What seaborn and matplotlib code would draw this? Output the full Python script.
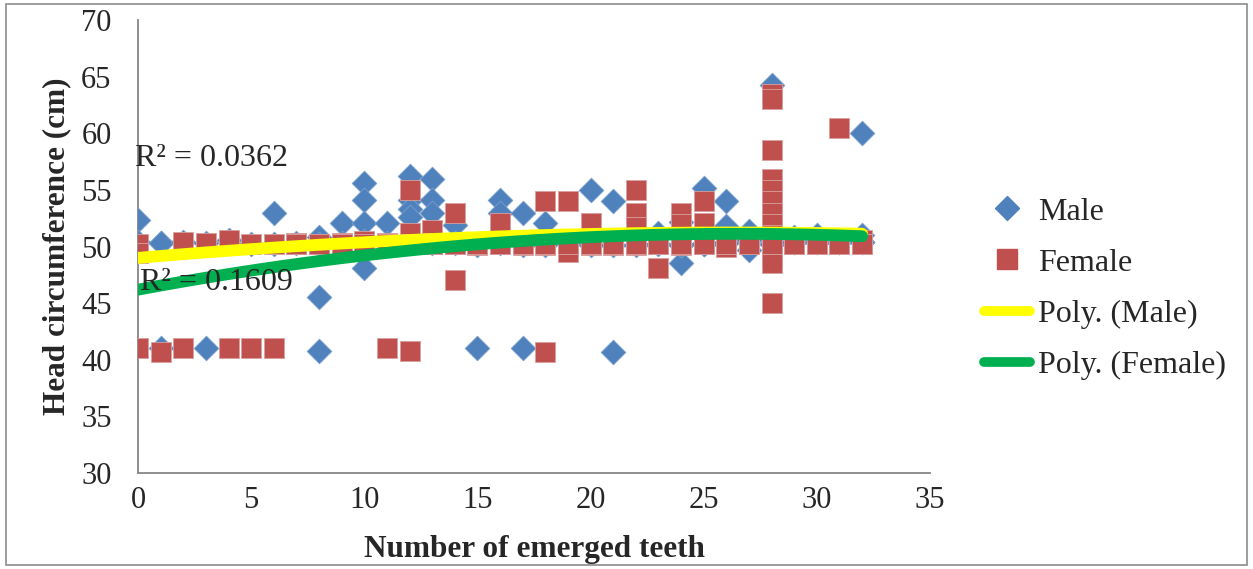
import matplotlib
matplotlib.use("Agg")
import matplotlib.pyplot as plt
import seaborn as sns
import numpy as np
import pandas as pd
from matplotlib.lines import Line2D
from matplotlib.patches import Rectangle

# ---- data (visible markers) ----
male_x = [0, 1, 1, 3, 6, 8, 8, 8, 9, 10, 10, 10, 10, 11, 12, 12, 12, 12, 13, 13, 13,
          14, 15, 16, 16, 17, 17, 18, 20, 21, 21, 23, 24, 24, 25, 26, 26, 27, 27,
          28, 29, 30, 32, 32]
male_y = [52.3, 50.3, 41.0, 41.0, 53.0, 45.5, 40.8, 50.8, 52.1, 55.6, 54.1, 52.1, 48.1,
          52.1, 56.2, 54.1, 53.3, 52.6, 56.0, 54.1, 53.0, 51.9, 41.0, 54.1, 53.0, 53.0,
          41.0, 52.1, 55.0, 54.0, 40.7, 51.2, 48.5, 52.2, 55.2, 54.0, 51.8, 51.4, 49.7,
          64.3, 50.8, 51.0, 60.0, 51.0]

female_x = [0, 0, 0, 1, 2, 2, 3, 4, 4, 5, 5, 6, 6, 7, 8, 9, 10, 11, 11,
            12, 12, 12, 12, 13, 13, 14, 14, 14, 15, 16, 16, 17, 18, 18, 18, 19, 19,
            20, 20, 21, 22, 22, 22, 22, 23, 23, 24, 24, 24, 25, 25, 25, 26, 26, 27,
            28, 28, 28, 28, 28, 28, 28, 28, 28, 28, 28, 28, 28,
            29, 30, 31, 31, 32, 32]
female_y = [50.2, 49.4, 41.0, 40.7, 50.4, 41.0, 50.3, 50.6, 41.0, 50.2, 41.0, 50.2, 41.0,
            50.3, 50.2, 50.3, 50.5, 50.3, 41.0,
            55.0, 51.2, 50.2, 40.8, 51.5, 50.3, 53.0, 50.3, 47.0, 50.1, 52.1, 50.3, 50.1,
            54.0, 50.1, 40.7, 54.0, 49.5, 52.1, 50.1, 50.1, 55.0, 53.0, 51.7, 50.1,
            50.2, 48.1, 53.0, 52.0, 50.1, 54.0, 52.1, 50.2, 50.7, 50.0, 50.6,
            63.5, 63.0, 58.5, 56.0, 55.0, 54.0, 53.0, 52.0, 51.0, 50.0, 49.0, 48.5, 45.0,
            50.4, 50.4, 60.5, 50.6, 50.6, 50.2]

# ---- overlapping (hidden) markers in the dense band near 50 cm (estimated counts) ----
male_overlap_x = [0, 1, 2, 3, 4, 5, 6, 7, 8, 9, 10, 11, 12, 13, 14, 15, 16, 17, 18, 19, 20,
                  21, 22, 23, 24, 25, 26, 27, 28, 29, 30, 31, 32]
male_overlap_n = [1, 1, 1, 1, 1, 1, 1, 1, 1, 1, 1, 1, 1, 1, 1, 1, 1, 1, 1, 1, 1,
                  1, 1, 1, 3, 3, 3, 3, 3, 3, 3, 3, 3]
male_overlap_y = [50.4, 50.3, 50.4, 50.3, 50.6, 50.2, 50.2, 50.3, 50.2, 50.3, 50.5, 50.3,
                  50.4, 50.3, 50.3, 50.1, 50.3, 50.1, 50.1, 50.3, 50.1, 50.1, 50.1, 50.2,
                  50.1, 50.2, 50.3, 50.6, 50.2, 50.4, 50.4, 50.4, 50.4]

female_overlap_x = [7, 8, 9, 10, 11, 12, 13, 14, 15, 16, 17, 18, 19, 20, 21, 22, 23, 24,
                    25, 26, 27, 28, 29, 30, 31, 32]
female_overlap_n = [4, 4, 4, 4, 4, 4, 4, 4, 4, 4, 4, 4, 4, 4, 4, 4, 4, 4,
                    4, 5, 5, 5, 5, 5, 5, 5]
female_overlap_y = 50.2

series_labels = ["Male", "Female", "Poly. (Male)", "Poly. (Female)"]
r2_labels = ["R\u00b2 = 0.0362", "R\u00b2 = 0.1609"]
x_ticks = [0, 5, 10, 15, 20, 25, 30, 35]
y_ticks = [30, 35, 40, 45, 50, 55, 60, 65, 70]

male_df = pd.DataFrame({"teeth": male_x, "hc": male_y})
female_df = pd.DataFrame({"teeth": female_x, "hc": female_y})
male_all = pd.concat([male_df, pd.DataFrame({
    "teeth": np.repeat(male_overlap_x, male_overlap_n),
    "hc": np.repeat(male_overlap_y, male_overlap_n)})], ignore_index=True)
female_all = pd.concat([female_df, pd.DataFrame({
    "teeth": np.repeat(female_overlap_x, female_overlap_n),
    "hc": female_overlap_y})], ignore_index=True)

# ---- styling ----
sns.set_style("white")
plt.rcParams["font.family"] = ["Liberation Serif", "DejaVu Serif"]

BLUE = "#4F81BD"
RED = "#C0504D"
YELLOW = "#FFFF00"
GREEN = "#00B050"
GRAY = "#868686"

fig = plt.figure(figsize=(12.53, 5.69), dpi=100)
ax = fig.add_axes([138 / 1253, 1 - 473 / 569, (930 - 138) / 1253, (473 - 20) / 569])

sns.scatterplot(data=male_all, x="teeth", y="hc", ax=ax, marker="D", s=160,
                color=BLUE, edgecolor="#7fa3d0", linewidth=0.5, zorder=3)
sns.scatterplot(data=female_all, x="teeth", y="hc", ax=ax, marker="s", s=215,
                color=RED, edgecolor="#d9a09e", linewidth=0.6, zorder=4)

sns.regplot(data=male_all, x="teeth", y="hc", ax=ax, order=2, scatter=False, ci=None,
            truncate=True,
            line_kws=dict(color=YELLOW, linewidth=8.5, solid_capstyle="round", zorder=5))
sns.regplot(data=female_all, x="teeth", y="hc", ax=ax, order=2, scatter=False, ci=None,
            truncate=True,
            line_kws=dict(color=GREEN, linewidth=8.5, solid_capstyle="round", zorder=6))

ax.set_xlim(0, 35)
ax.set_ylim(30, 70)
ax.set_xticks(x_ticks)
ax.set_yticks(y_ticks)
ax.tick_params(axis="both", which="major", labelsize=22, direction="out", length=6,
               width=1.2, color=GRAY)
ax.tick_params(axis="y", pad=13)
ax.tick_params(axis="x", pad=3)
for side in ["top", "right"]:
    ax.spines[side].set_visible(False)
for side in ["left", "bottom"]:
    ax.spines[side].set_color(GRAY)
    ax.spines[side].set_linewidth(1.3)

ax.set_xlabel("Number of emerged teeth", fontsize=22.5, fontweight="bold", labelpad=15)
ax.set_ylabel("Head circumference (cm)", fontsize=22.5, fontweight="bold", labelpad=7)

ax.text(-0.13, 57.8, r2_labels[0], fontsize=23, ha="left", va="center", zorder=7)
ax.text(0.1, 46.8, r2_labels[1], fontsize=23, ha="left", va="center", zorder=7)

handles = [
    Line2D([], [], marker="D", linestyle="none", color=BLUE, markersize=12),
    Line2D([], [], marker="s", linestyle="none", color=RED, markersize=14),
    Line2D([], [], color=YELLOW, linewidth=7, solid_capstyle="round"),
    Line2D([], [], color=GREEN, linewidth=7, solid_capstyle="round"),
]
fig.legend(handles, series_labels, loc="center left",
           bbox_to_anchor=(984 / 1253, 1 - 288.5 / 569), frameon=False, fontsize=23,
           handlelength=1.45, handletextpad=0.25, labelspacing=0.68, borderpad=0,
           borderaxespad=0)

fig.add_artist(Rectangle((6 / 1253, 4 / 569), 1241 / 1253, 561 / 569,
                         transform=fig.transFigure, fill=False, edgecolor="#8c8c8c",
                         linewidth=1.2))

fig.savefig("out.png", dpi=100)
